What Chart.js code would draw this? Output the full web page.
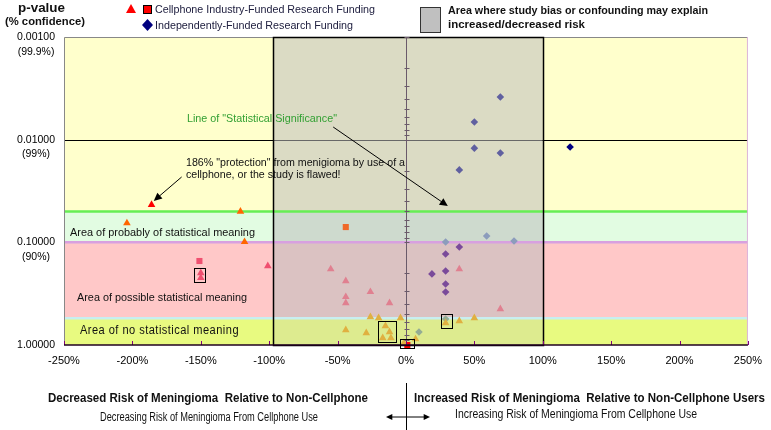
<!DOCTYPE html>
<html>
<head>
<meta charset="utf-8">
<script src="https://cdn.jsdelivr.net/npm/chart.js@4.4.0/dist/chart.umd.min.js"></script>
<style>
body { margin: 0; background: #fff; }
#wrap { position: relative; width: 771px; height: 430px; overflow: hidden; font-family: Arial, "Liberation Sans", sans-serif; }
#wrap canvas { position: absolute; left: 0; top: 0; }
.t { position: absolute; white-space: nowrap; transform-origin: 0 50%; line-height: 1; color: #111; }
</style>
</head>
<body>
<div id="wrap"><canvas id="c" width="771" height="430"></canvas></div>
<script>
// [relative risk change %, p-value]
var industryTriangles = [
  [-186, 0.043], [-121, 0.05], [-204, 0.065], [-118, 0.099],
  [-150, 0.199], [-150, 0.222], [-101, 0.17], [-55, 0.182],
  [-44, 0.238], [-44, 0.34], [-44, 0.39], [-26, 0.304], [-12, 0.39],
  [-26, 0.533], [-20, 0.545], [-4, 0.545],
  [-44, 0.714], [-29, 0.764], [-15, 0.653], [-12, 0.747], [-17, 0.855], [-11, 0.855],
  [7, 0.875], [-1.5, 0.955],
  [39, 0.182], [69, 0.446], [29, 0.61], [39, 0.584], [50, 0.545]
];
var industrySquares = [[-44, 0.071], [-151, 0.152], [1, 1.0]];
var independentDiamonds = [
  [69, 0.00384], [50, 0.00673], [50, 0.0121], [69, 0.0135], [39, 0.0197], [120, 0.0118],
  [59, 0.0867], [29, 0.0993], [79, 0.097], [39, 0.111], [29, 0.13],
  [19, 0.203], [29, 0.19], [29, 0.255], [29, 0.305],
  [9.5, 0.747], [29, 0.558]
];

var yTickValues = [0.001, 0.01, 0.1, 1];
var yTickLabels = [['', '0.00100', '(99.9%)'], ['', '0.01000', '(99%)'], ['', '0.10000', '(90%)'], ['1.00000']];

// band limits (p-values) and the bias box (x %)
var significanceP = 0.05;
var probableP = [0.05, 0.1];
var possibleP = [0.1, 0.55];
var noMeaningP = [0.55, 1];
var biasBoxX = [-97, 100];

// highlighted studies: [xmin, xmax, pmin, pmax]
var highlightBoxes = [[-154.7, -146.7, 0.179, 0.244], [-20.4, -7.3, 0.585, 0.935], [25.5, 33.6, 0.5, 0.684], [-4.4, 5.8, 0.875, 1.07]];
// annotation arrows: [x1, p1, x2, p2]
var noteArrows = [[-164, 0.0231, -184.4, 0.0395], [-53.2, 0.00753, 30.6, 0.0443]];

function toPts(list) { return list.map(function (d) { return { x: d[0], y: d[1] }; }); }
function zone(p) { return p < 0.05 ? 0 : p < 0.1 ? 1 : p < 0.5 ? 2 : 3; }
function inBox(v) { return v >= biasBoxX[0] && v <= biasBoxX[1]; }

var triCol = { out: ['#ff0000', '#ff6600', '#f05070', '#e0b040'], inside: ['#ff0000', '#ff6600', '#e08090', '#e0b040'] };
var sqCol = ['#ff0000', '#f06828', '#f05070', '#ff0000'];
var diaCol = ['#6060a0', '#8c9cbc', '#7a4a9a', '#94ac94'];

function arrow(ctx, x1, y1, x2, y2, head) {
  var a = Math.atan2(y2 - y1, x2 - x1);
  ctx.beginPath();
  ctx.moveTo(x1, y1);
  ctx.lineTo(x2 - Math.cos(a) * head * 0.8, y2 - Math.sin(a) * head * 0.8);
  ctx.stroke();
  ctx.beginPath();
  ctx.moveTo(x2, y2);
  ctx.lineTo(x2 - head * Math.cos(a - 0.45), y2 - head * Math.sin(a - 0.45));
  ctx.lineTo(x2 - head * Math.cos(a + 0.45), y2 - head * Math.sin(a + 0.45));
  ctx.closePath();
  ctx.fill();
}

var backdrop = {
  id: 'backdrop',
  beforeDatasetsDraw: function (chart) {
    var ctx = chart.ctx, a = chart.chartArea, x = chart.scales.x, y = chart.scales.y;
    var bx1 = x.getPixelForValue(biasBoxX[0]), bx2 = x.getPixelForValue(biasBoxX[1]);
    ctx.save();
    ctx.fillStyle = '#ffffcc';
    ctx.fillRect(a.left, a.top, a.width, a.height);
    [[probableP, '#e2fce2'], [possibleP, '#ffc8c8'], [noMeaningP, '#e8fa80']].forEach(function (b) {
      var t = y.getPixelForValue(b[0][0]), btm = y.getPixelForValue(b[0][1]);
      ctx.fillStyle = b[1];
      ctx.fillRect(a.left, t, a.width, btm - t);
    });
    // 99% line
    ctx.strokeStyle = '#000';
    ctx.lineWidth = 1.2;
    var y01 = Math.round(y.getPixelForValue(0.01)) + 0.5;
    ctx.beginPath(); ctx.moveTo(a.left, y01); ctx.lineTo(a.right, y01); ctx.stroke();
    // bias box
    ctx.fillStyle = 'rgba(190,190,190,0.55)';
    ctx.fillRect(bx1, a.top, bx2 - bx1, a.height);
    var n1 = y.getPixelForValue(noMeaningP[0]), n2 = y.getPixelForValue(noMeaningP[1]);
    ctx.fillStyle = 'rgba(232,250,128,0.55)';
    ctx.fillRect(bx1, n1, bx2 - bx1, n2 - n1);
    // band edges
    [[significanceP, '#66ee55', 2.5], [possibleP[0], '#d8a0e0', 2.5], [noMeaningP[0], '#c8eef0', 2.5]].forEach(function (l) {
      var ly = y.getPixelForValue(l[0]);
      ctx.strokeStyle = l[1]; ctx.lineWidth = l[2];
      ctx.beginPath(); ctx.moveTo(a.left, ly); ctx.lineTo(a.right, ly); ctx.stroke();
    });
    ctx.restore();
  },
  afterDatasetsDraw: function (chart) {
    var ctx = chart.ctx, a = chart.chartArea, x = chart.scales.x, y = chart.scales.y;
    ctx.save();
    // frame
    ctx.lineWidth = 1;
    ctx.strokeStyle = '#888';
    ctx.beginPath(); ctx.moveTo(a.left + 0.5, a.bottom); ctx.lineTo(a.left + 0.5, a.top + 0.5); ctx.lineTo(a.right, a.top + 0.5); ctx.stroke();
    ctx.strokeStyle = '#dcb4dc';
    ctx.beginPath(); ctx.moveTo(a.right - 0.5, a.top); ctx.lineTo(a.right - 0.5, a.bottom); ctx.stroke();
    // bias box border
    var bx1 = Math.round(x.getPixelForValue(biasBoxX[0])) + 0.5, bx2 = Math.round(x.getPixelForValue(biasBoxX[1])) + 0.5;
    ctx.strokeStyle = '#000';
    ctx.lineWidth = 1.5;
    ctx.strokeRect(bx1, a.top + 0.5, bx2 - bx1, a.height);
    // vertical axis at 0% with log ticks
    var x0 = Math.round(x.getPixelForValue(0)) + 0.5;
    ctx.strokeStyle = '#6a5a6a';
    ctx.lineWidth = 1;
    ctx.beginPath(); ctx.moveTo(x0, a.top); ctx.lineTo(x0, a.bottom); ctx.stroke();
    ctx.beginPath();
    [0.001, 0.01, 0.1].forEach(function (d) {
      for (var m = 1; m <= 9; m++) {
        var ty = Math.round(y.getPixelForValue(d * m)) + 0.5;
        ctx.moveTo(x0 - 2, ty); ctx.lineTo(x0 + 3, ty);
      }
    });
    ctx.stroke();
    // bottom axis with purple ticks
    ctx.strokeStyle = '#800080';
    ctx.beginPath();
    for (var v = -250; v <= 250; v += 50) {
      var tx = Math.round(x.getPixelForValue(v)) + 0.5;
      ctx.moveTo(tx, a.bottom); ctx.lineTo(tx, a.bottom - 4);
    }
    ctx.stroke();
    ctx.strokeStyle = '#200020';
    ctx.lineWidth = 1.5;
    ctx.beginPath(); ctx.moveTo(a.left, a.bottom); ctx.lineTo(a.right, a.bottom); ctx.stroke();
    // highlight boxes
    ctx.strokeStyle = '#000';
    ctx.lineWidth = 1;
    highlightBoxes.forEach(function (b) {
      var l = Math.round(x.getPixelForValue(b[0])) + 0.5, r = Math.round(x.getPixelForValue(b[1])) + 0.5;
      var t = Math.round(y.getPixelForValue(b[2])) + 0.5, btm = Math.round(y.getPixelForValue(b[3])) + 0.5;
      ctx.strokeRect(l, t, r - l, btm - t);
    });
    // note arrows
    ctx.fillStyle = '#000';
    noteArrows.forEach(function (n) {
      arrow(ctx, x.getPixelForValue(n[0]), y.getPixelForValue(n[1]), x.getPixelForValue(n[2]), y.getPixelForValue(n[3]), 9);
    });
    // divider under the axis
    ctx.strokeStyle = '#000';
    ctx.beginPath(); ctx.moveTo(x0, 383); ctx.lineTo(x0, 430); ctx.stroke();
    arrow(ctx, x0, 417, 386, 417, 7);
    arrow(ctx, x0, 417, 430, 417, 7);
    // legend markers
    ctx.fillStyle = '#ff0000';
    ctx.beginPath(); ctx.moveTo(131, 4); ctx.lineTo(136, 13); ctx.lineTo(126, 13); ctx.closePath(); ctx.fill();
    ctx.fillRect(143, 5, 9, 9);
    ctx.strokeRect(143.5, 5.5, 8, 8);
    ctx.fillStyle = '#000080';
    ctx.beginPath(); ctx.moveTo(147.5, 19); ctx.lineTo(153, 25); ctx.lineTo(147.5, 31); ctx.lineTo(142, 25); ctx.closePath(); ctx.fill();
    ctx.fillStyle = '#c0c0c0';
    ctx.fillRect(420, 7, 20, 25);
    ctx.strokeStyle = '#333';
    ctx.strokeRect(420.5, 7.5, 20, 25);
    ctx.restore();
  }
};

var chart = new Chart(document.getElementById('c'), {
  type: 'scatter',
  data: {
    datasets: [{
      label: 'Cellphone Industry-Funded Research Funding',
      data: toPts(industryTriangles),
      pointStyle: 'triangle',
      pointRadius: 4.4,
      borderWidth: 0,
      backgroundColor: function (c) {
        var r = c.raw; if (!r) return '#f00';
        return (inBox(r.x) ? triCol.inside : triCol.out)[zone(r.y)];
      },
      clip: false
    }, {
      label: 'Cellphone Industry-Funded Research Funding',
      data: toPts(industrySquares),
      pointStyle: 'rect',
      pointRadius: 4.3,
      borderWidth: 0,
      backgroundColor: function (c) { var r = c.raw; return r ? sqCol[zone(r.y)] : '#f00'; },
      clip: false
    }, {
      label: 'Independently-Funded Research Funding',
      data: toPts(independentDiamonds),
      pointStyle: 'rectRot',
      pointRadius: 3.8,
      borderWidth: 0,
      backgroundColor: function (c) {
        var r = c.raw; if (!r) return '#000080';
        return inBox(r.x) ? diaCol[zone(r.y)] : '#000080';
      },
      clip: false
    }]
  },
  options: {
    responsive: false,
    animation: false,
    events: [],
    layout: { padding: { left: 0, right: 21, top: 37, bottom: 0 } },
    plugins: { legend: { display: false }, tooltip: { enabled: false } },
    scales: {
      x: {
        type: 'linear', min: -250, max: 250,
        grid: { display: false, drawTicks: false },
        border: { display: false },
        ticks: {
          stepSize: 50, maxRotation: 0, autoSkip: false, padding: 9,
          color: '#000', font: { family: 'Arial, "Liberation Sans"', size: 11 },
          callback: function (v) { return v + '%'; }
        },
        afterFit: function (s) { s.height = 85; }
      },
      y: {
        type: 'logarithmic', min: 0.001, max: 1, reverse: true,
        grid: { display: false, drawTicks: false },
        border: { display: false },
        afterBuildTicks: function (s) { s.ticks = yTickValues.map(function (v) { return { value: v }; }); },
        ticks: {
          padding: 9, crossAlign: 'center', autoSkip: false,
          color: '#000', font: { family: 'Arial, "Liberation Sans"', size: 10.5, lineHeight: 1.4 },
          callback: function (v, i) { return yTickLabels[i]; }
        },
        afterFit: function (s) { s.width = 64; }
      }
    }
  },
  plugins: [backdrop]
});

// texts
var wrap = document.getElementById('wrap');
function txt(s, x, y, size, width, style, scale) {
  var el = document.createElement('div');
  el.className = 't';
  el.textContent = s;
  el.style.left = x + 'px';
  el.style.top = (y - size / 2) + 'px';
  el.style.fontSize = size + 'px';
  if (style) for (var k in style) el.style[k] = style[k];
  wrap.appendChild(el);
  var f = scale || 1;
  if (width) f = width / el.getBoundingClientRect().width;
  el.style.transform = 'scaleX(' + f + ')';
  return f;
}
var bold = { fontWeight: 'bold' };
txt('p-value', 18, 8, 12, 47, bold);
txt('(% confidence)', 5, 22, 11.5, 80, bold);
txt('Cellphone Industry-Funded Research Funding', 155, 9, 11, 220, { color: '#202040' });
txt('Independently-Funded Research Funding', 155, 25, 11, 198, { color: '#202040' });
txt('Area where study bias or confounding may explain', 448, 11, 10, 260, bold);
txt('increased/decreased risk', 448, 25, 10, 137, bold);
txt('Line of "Statistical Significance"', 187, 118, 11, 150, { color: '#33a033' });
var noteScale = txt('186% "protection" from menigioma by use of a', 186, 163, 10, 219);
txt('cellphone, or the study is flawed!', 186, 175, 10, 0, null, noteScale);
txt('Area of probably of statistical meaning', 70, 233, 11.5, 185);
txt('Area of possible statistical meaning', 77, 298, 11.5, 170);
txt('Area of no statistical meaning', 80, 330, 12, 159, { letterSpacing: '0.5px' });
txt('Decreased Risk of Meningioma  Relative to Non-Cellphone', 48, 398, 12, 320, { fontWeight: 'bold', whiteSpace: 'pre' });
txt('Increased Risk of Meningioma  Relative to Non-Cellphone Users', 414, 398, 12, 351, { fontWeight: 'bold', whiteSpace: 'pre' });
txt('Decreasing Risk of Meningioma From Cellphone Use', 100, 417, 12, 218);
txt('Increasing Risk of Meningioma From Cellphone Use', 455, 414, 12, 242);
</script>
</body>
</html>
